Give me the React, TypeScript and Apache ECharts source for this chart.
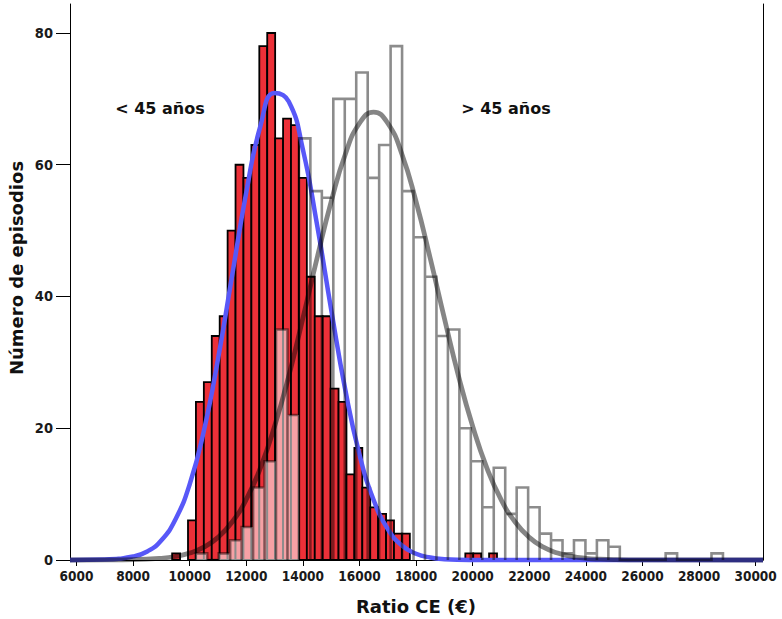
import React, { useEffect, useRef } from "react";
import * as echarts from "echarts";

// ---- data ----
// "< 45 años" histogram (red): bin start, width and counts
const RED_BIN_START = 9380;
const RED_BIN_WIDTH = 280;
const redCounts = [
  1, 0, 6, 24, 27, 34, 37, 50, 60, 58, 63, 78, 80, 64, 67, 66, 58, 43, 37, 37,
  26, 24, 13, 17, 11, 8, 7, 6, 4, 4, 0, 0, 0, 0, 0, 0, 0, 1, 1, 0, 1,
];

// "> 45 años" histogram (grey outline)
const GRAY_BIN_START = 9810;
const GRAY_BIN_WIDTH = 405;
const grayCounts = [
  0, 1, 0, 1, 3, 5, 11, 15, 35, 22, 64, 56, 55, 70, 70, 74, 58, 63, 78, 56,
  49, 43, 34, 35, 20, 15, 8, 14, 7, 11, 8, 4, 3, 1, 3, 1, 3, 2, 0, 0,
  0, 0, 1, 0, 0, 0, 1,
];

// fitted normal curves, read point by point
const blueCurveX = [5770, 7000, 8000, 8500, 9000, 9500, 10000, 10500, 11000, 11500, 12000, 12500, 13000, 13500, 14000, 14500, 15000, 15500, 16000, 16500, 17000, 17500, 18000, 18500, 19000, 20000, 21000, 30260];
const blueCurveY = [0, 0.07, 0.55, 1.3, 3.0, 6.2, 11.5, 19.6, 30.5, 43.2, 55.8, 65.9, 70.9, 69.6, 62.3, 50.9, 38.0, 25.8, 16.0, 9.1, 4.7, 2.2, 0.95, 0.37, 0.13, 0.01, 0, 0];

const grayCurveX = [5770, 7000, 8000, 9000, 9500, 10000, 10500, 11000, 11500, 12000, 12500, 13000, 13500, 14000, 14500, 15000, 15500, 16000, 16500, 17000, 17500, 18000, 18500, 19000, 19500, 20000, 20500, 21000, 21500, 22000, 22500, 23000, 23500, 24000, 24500, 25000, 26000, 30260];
const grayCurveY = [0, 0.01, 0.05, 0.26, 0.54, 1.05, 1.94, 3.43, 5.76, 9.2, 14.0, 20.3, 27.9, 36.7, 45.8, 54.4, 61.6, 66.3, 68, 66.3, 61.6, 54.4, 45.8, 36.7, 27.9, 20.3, 14.0, 9.2, 5.76, 3.43, 1.94, 1.05, 0.54, 0.26, 0.12, 0.05, 0.01, 0];

const xTicks = [6000, 8000, 10000, 12000, 14000, 16000, 18000, 20000, 22000, 24000, 26000, 28000, 30000];
const yTicks = [0, 20, 40, 60, 80];
const X_MIN = 5770;
const X_MAX = 30260;
const Y_MAX = 84.4;

const xTitle = "Ratio CE (€)";
const yTitle = "Número de episodios";
const leftLabel = "< 45 años";
const rightLabel = "> 45 años";

// ---- derived tables ----
function redAt(v: number) {
  const i = Math.floor((v - RED_BIN_START) / RED_BIN_WIDTH);
  return i >= 0 && i < redCounts.length ? redCounts[i] : 0;
}

const redData = redCounts
  .map((c, i) => [RED_BIN_START + i * RED_BIN_WIDTH, RED_BIN_START + (i + 1) * RED_BIN_WIDTH, c])
  .filter((d) => d[2] > 0);

const grayBins = grayCounts.map((c, i) => [
  GRAY_BIN_START + i * GRAY_BIN_WIDTH,
  GRAY_BIN_START + (i + 1) * GRAY_BIN_WIDTH,
  c,
]);
// light veil where the grey bar is shorter than the red bar below it
const grayFillData = grayBins.filter((d) => d[2] > 0 && d[2] < redAt((d[0] + d[1]) / 2));
// outline of grey histogram as one continuous step path
const grayOutline: number[][] = [];
grayBins.forEach((d) => {
  if (d[2] <= 0) return;
  grayOutline.push([d[0], 0], [d[0], d[2]], [d[1], d[2]], [d[1], 0]);
});

const blueCurve = blueCurveX.map((x, i) => [x, blueCurveY[i]]);
const grayCurve = grayCurveX.map((x, i) => [x, grayCurveY[i]]);

const TICK_FONT = "'DejaVu Sans Condensed', 'Liberation Sans Narrow', 'DejaVu Sans', sans-serif";
const TITLE_FONT = "'DejaVu Sans', sans-serif";

export default function App() {
  const ref = useRef<HTMLDivElement>(null);
  useEffect(() => {
    if (!ref.current) return;
    const chart = echarts.init(ref.current, undefined, { renderer: "svg" });
    const rectItem = (fill: string, stroke: string, lw: number) => (params: any, api: any) => {
      const p0 = api.coord([api.value(0), api.value(2)]);
      const p1 = api.coord([api.value(1), 0]);
      return {
        type: "rect",
        shape: { x: p0[0], y: p0[1], width: p1[0] - p0[0], height: p1[1] - p0[1] },
        style: { fill, stroke, lineWidth: lw },
      };
    };
    chart.setOption({
      animation: false,
      backgroundColor: "#ffffff",
      grid: { left: 70, right: 19, top: 4, bottom: 59 },
      xAxis: {
        type: "value",
        min: X_MIN,
        max: X_MAX,
        axisLine: { show: true, onZero: false, lineStyle: { color: "#000", width: 1 } },
        axisTick: { show: true, length: 6, customValues: xTicks, lineStyle: { color: "#000" } },
        axisLabel: {
          customValues: xTicks,
          formatter: (v: number) => String(v),
          fontSize: 13.5,
          fontWeight: "bold",
          fontFamily: TICK_FONT,
          color: "#1a1a1a",
          margin: 9,
        },
        splitLine: { show: false },
      },
      yAxis: [
        {
          type: "value",
          min: 0,
          max: Y_MAX,
          axisLine: { show: true, lineStyle: { color: "#000", width: 1 } },
          axisTick: { show: true, length: 14, customValues: yTicks, lineStyle: { color: "#000" } },
          axisLabel: {
            customValues: yTicks,
            formatter: (v: number) => String(v),
            fontSize: 14.5,
            fontWeight: "bold",
            fontFamily: TICK_FONT,
            color: "#1a1a1a",
            margin: 17,
          },
          splitLine: { show: false },
        },
        {
          type: "value",
          position: "right",
          min: 0,
          max: Y_MAX,
          axisLine: { show: true, lineStyle: { color: "#000", width: 1 } },
          axisTick: { show: false },
          axisLabel: { show: false },
          splitLine: { show: false },
        },
      ],
      series: [
        {
          type: "custom",
          name: "< 45 años",
          z: 2,
          renderItem: rectItem("#ec3038", "#000", 1.8),
          encode: { x: [0, 1], y: 2 },
          data: redData,
        },
        {
          type: "line",
          z: 3,
          data: blueCurve,
          smooth: true,
          showSymbol: false,
          clip: false,
          lineStyle: { color: "#5858f8", width: 4.5 },
        },
        {
          type: "custom",
          z: 4,
          renderItem: rectItem("rgba(255,255,255,0.55)", "none", 0),
          encode: { x: [0, 1], y: 2 },
          data: grayFillData,
        },
        {
          type: "line",
          name: "> 45 años",
          z: 5,
          data: grayOutline,
          showSymbol: false,
          lineStyle: { color: "rgba(0,0,0,0.45)", width: 2.6, join: "miter" },
        },
        {
          type: "line",
          z: 6,
          data: grayCurve,
          smooth: true,
          showSymbol: false,
          clip: false,
          lineStyle: { color: "rgba(0,0,0,0.48)", width: 4.8 },
        },
      ],
      graphic: [
        {
          type: "text",
          x: 16,
          y: 268,
          rotation: Math.PI / 2,
          style: {
            text: yTitle,
            font: `bold 18px ${TITLE_FONT}`,
            fill: "#111",
            align: "center",
            verticalAlign: "middle",
          },
        },
        {
          type: "text",
          x: 416,
          y: 606,
          style: {
            text: xTitle,
            font: `bold 18px ${TITLE_FONT}`,
            fill: "#111",
            align: "center",
            verticalAlign: "middle",
          },
        },
        {
          type: "text",
          x: 160,
          y: 108,
          style: {
            text: leftLabel,
            font: `bold 16px ${TITLE_FONT}`,
            fill: "#111",
            align: "center",
            verticalAlign: "middle",
          },
        },
        {
          type: "text",
          x: 506,
          y: 108,
          style: {
            text: rightLabel,
            font: `bold 16px ${TITLE_FONT}`,
            fill: "#111",
            align: "center",
            verticalAlign: "middle",
          },
        },
      ],
    });
    return () => chart.dispose();
  }, []);
  return (
    <div
      ref={ref}
      style={{ position: "fixed", left: 0, top: 0, width: 782, height: 619, background: "#fff" }}
    />
  );
}
